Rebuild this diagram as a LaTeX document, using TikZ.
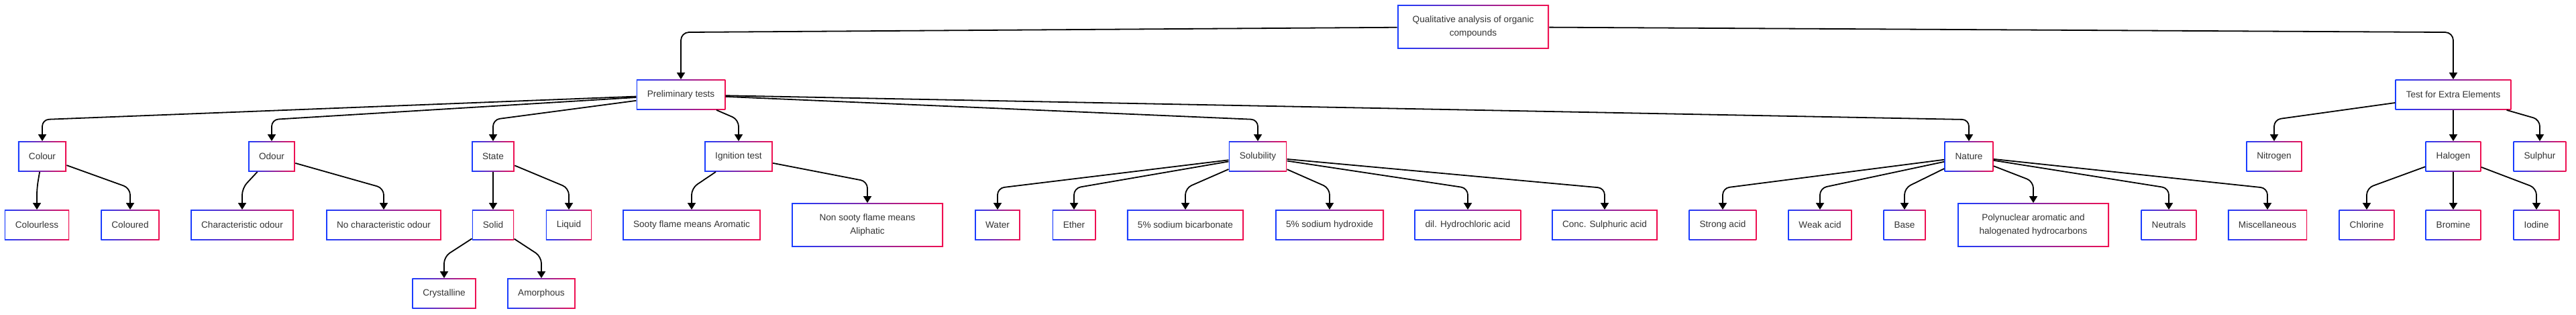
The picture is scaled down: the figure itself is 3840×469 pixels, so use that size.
\documentclass[tikz,border=0pt]{standalone}
\usepackage{fontspec}
\setmainfont{Liberation Sans}
\usepackage{tikz}
\usetikzlibrary{arrows.meta, calc}

\definecolor{boxblue}{RGB}{25,60,255}
\definecolor{boxred}{RGB}{240,15,80}
\definecolor{boxtext}{RGB}{51,51,51}

\tikzset{
  box/.style={fill=white, text=boxtext, font=\fontsize{6.8}{10}\selectfont,
    inner xsep=8pt, inner ysep=0pt, minimum height=22.5pt,
    path picture={
      \shade[left color=boxblue, right color=boxred]
        (path picture bounding box.south west) rectangle (path picture bounding box.north east);
      \fill[white] ([shift={(0.8pt,0.8pt)}]path picture bounding box.south west)
        rectangle ([shift={(-0.8pt,-0.8pt)}]path picture bounding box.north east);
    }},
  widebox/.style={box, align=center, minimum width=113pt, minimum height=32.5pt},
  link/.style={draw, line width=0.9pt, -{Triangle[width=6pt,length=5pt]}},
}

\begin{document}
\begin{tikzpicture}[x=0.5pt, y=-0.5pt]
            \useasboundingbox (0,0) rectangle (3840,469);

            \node[widebox] (root) at (2196,40) {Qualitative analysis of organic\\compounds};

            \node[box] (prelim) at (1015,141) {Preliminary tests};
            \node[box] (extra) at (3657,141) {Test for Extra Elements};

            \node[box] (colour) at (63,233) {Colour};
            \node[box] (odour) at (405,233) {Odour};
            \node[box] (state) at (735,233) {State};
            \node[box] (ignition) at (1101,233) {Ignition test};
            \node[box] (solub) at (1875,233) {Solubility};
            \node[box] (nature) at (2935,233) {Nature};
            \node[box] (nitrogen) at (3390,233) {Nitrogen};
            \node[box] (halogen) at (3657,233) {Halogen};
            \node[box] (sulphur) at (3786,233) {Sulphur};

            \node[box] (colourless) at (55,335) {Colourless};
            \node[box] (coloured) at (194,335) {Coloured};
            \node[box] (charodour) at (361,335) {Characteristic odour};
            \node[box] (nochar) at (572,335) {No characteristic odour};
            \node[box] (solid) at (735,335) {Solid};
            \node[box] (liquid) at (848,335) {Liquid};
            \node[box] (sooty) at (1031,335) {Sooty flame means Aromatic};
            \node[widebox] (nonsooty) at (1293,335) {Non sooty flame means\\Aliphatic};
            \node[box] (water) at (1487,335) {Water};
            \node[box] (ether) at (1601,335) {Ether};
            \node[box] (bicarb) at (1767,335) {5\% sodium bicarbonate};
            \node[box] (hydrox) at (1982,335) {5\% sodium hydroxide};
            \node[box] (hcl) at (2188,335) {dil. Hydrochloric acid};
            \node[box] (conc) at (2392,335) {Conc. Sulphuric acid};
            \node[box] (strong) at (2568,335) {Strong acid};
            \node[box] (weak) at (2713,335) {Weak acid};
            \node[box] (base) at (2839,335) {Base};
            \node[widebox] (poly) at (3031,335) {Polynuclear aromatic and\\halogenated hydrocarbons};
            \node[box] (neutrals) at (3233,335) {Neutrals};
            \node[box] (misc) at (3380,335) {Miscellaneous};
            \node[box] (chlorine) at (3528,335) {Chlorine};
            \node[box] (bromine) at (3657,335) {Bromine};
            \node[box] (iodine) at (3781,335) {Iodine};

            \node[box] (cryst) at (662,437) {Crystalline};
            \node[box] (amorph) at (807,437) {Amorphous};

            \foreach \a/\b in {root/prelim, root/extra}
                \draw[link] (\a) [rounded corners=6pt] -- ([yshift=35pt]\b.north) -- (\b);
            \foreach \a/\b in {prelim/colour, prelim/odour, prelim/state, prelim/ignition,
                prelim/solub, prelim/nature, extra/nitrogen, extra/halogen, extra/sulphur,
                colour/colourless, colour/coloured, odour/charodour, odour/nochar,
                state/solid, state/liquid, ignition/sooty, ignition/nonsooty,
                solub/water, solub/ether, solub/bicarb, solub/hydrox, solub/hcl, solub/conc,
                nature/strong, nature/weak, nature/base, nature/poly, nature/neutrals, nature/misc,
                halogen/chlorine, halogen/bromine, halogen/iodine,
                solid/cryst, solid/amorph}
                \draw[link] (\a) [rounded corners=5pt] -- ([yshift=16pt]\b.north) -- (\b);
        \end{tikzpicture}
\end{document}
